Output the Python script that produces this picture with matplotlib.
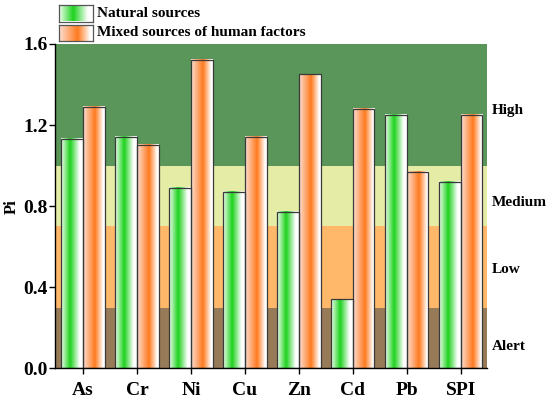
import numpy as np
import matplotlib
matplotlib.use('Agg')
import matplotlib.pyplot as plt
from matplotlib.colors import LinearSegmentedColormap
from matplotlib.patches import Rectangle

categories = ['As', 'Cr', 'Ni', 'Cu', 'Zn', 'Cd', 'Pb', 'SPI']
natural = [1.13, 1.14, 0.89, 0.87, 0.77, 0.34, 1.25, 0.92]
mixed = [1.29, 1.10, 1.52, 1.14, 1.45, 1.28, 0.97, 1.25]
series_names = ['Natural sources', 'Mixed sources of human factors']
band_edges = [0.0, 0.3, 0.7, 1.0, 1.6]
band_labels = ['Alert', 'Low', 'Medium', 'High']
band_label_y = [0.11, 0.49, 0.82, 1.27]
yticks = [0.0, 0.4, 0.8, 1.2, 1.6]

band_colors = ['#977b58', '#ffb86a', '#e5eca5', '#5a965a']
green_cmap = LinearSegmentedColormap.from_list(
    'g', [(0.0, '#f2fff2'), (0.42, '#1ed21e'), (0.85, '#ffffff'), (1.0, '#ffffff')])
orange_cmap = LinearSegmentedColormap.from_list(
    'o', [(0.0, '#fde0d5'), (0.55, '#ff7a1e'), (0.92, '#ffffff'), (1.0, '#ffffff')])

plt.rcParams['font.family'] = ['Liberation Serif', 'DejaVu Serif']
plt.rcParams['font.weight'] = 'bold'

fig = plt.figure(figsize=(5.5, 4), dpi=100)
ax = fig.add_axes([0.1, 0.079, 0.785, 0.811])

for i in range(len(band_labels)):
    ax.axhspan(band_edges[i], band_edges[i + 1], color=band_colors[i], zorder=0, lw=0)

grad = np.linspace(0, 1, 256)[None, :]
width = 0.4
x = np.arange(len(categories))
for vals, cmap, off in [(natural, green_cmap, -width), (mixed, orange_cmap, 0.0)]:
    for xi, v in zip(x, vals):
        x0 = xi + off
        ax.imshow(grad, extent=[x0, x0 + width, 0, v], cmap=cmap, aspect='auto',
                  zorder=2, interpolation='bilinear')
        ax.add_patch(Rectangle((x0, 0), width, v, facecolor='none',
                               edgecolor='#3a3a3a', lw=0.9, zorder=3))

ax.set_xlim(-0.52, 7.48)
ax.set_ylim(0, 1.6)
ax.set_xticks(x)
ax.set_xticklabels(categories, fontsize=14, fontweight='bold')
ax.set_yticks(yticks)
ax.set_yticklabels(['%.1f' % t for t in yticks], fontsize=14, fontweight='bold')
ax.tick_params(axis='both', direction='out', length=4, width=1)
ax.tick_params(axis='x', pad=6)
ax.tick_params(axis='y', pad=1)
for s in ['top', 'right']:
    ax.spines[s].set_visible(False)
for s in ['left', 'bottom']:
    ax.spines[s].set_linewidth(1.0)
    ax.spines[s].set_zorder(5)
ax.set_ylabel('Pi', fontsize=12, fontweight='bold', labelpad=3)

for lab, yv in zip(band_labels, band_label_y):
    ax.text(1.012, yv, lab, transform=ax.get_yaxis_transform(), fontsize=11,
            fontweight='bold', va='center', ha='left')

# legend
W, H = 550.0, 400.0
for k, (name, cmap) in enumerate(zip(series_names, [green_cmap, orange_cmap])):
    top = 5 + k * 19.5
    lax = fig.add_axes([59 / W, 1 - (top + 16.5) / H, 34 / W, 16.5 / H])
    lax.imshow(grad, cmap=cmap, aspect='auto', interpolation='bilinear', extent=[0, 1, 0, 1])
    lax.set_xticks([])
    lax.set_yticks([])
    for s in lax.spines.values():
        s.set_edgecolor('#555555')
        s.set_linewidth(0.9)
    fig.text(97 / W, 1 - (top + 8.5) / H, name, fontsize=11, fontweight='bold',
             va='center', ha='left')

fig.savefig('out.png', dpi=100)
